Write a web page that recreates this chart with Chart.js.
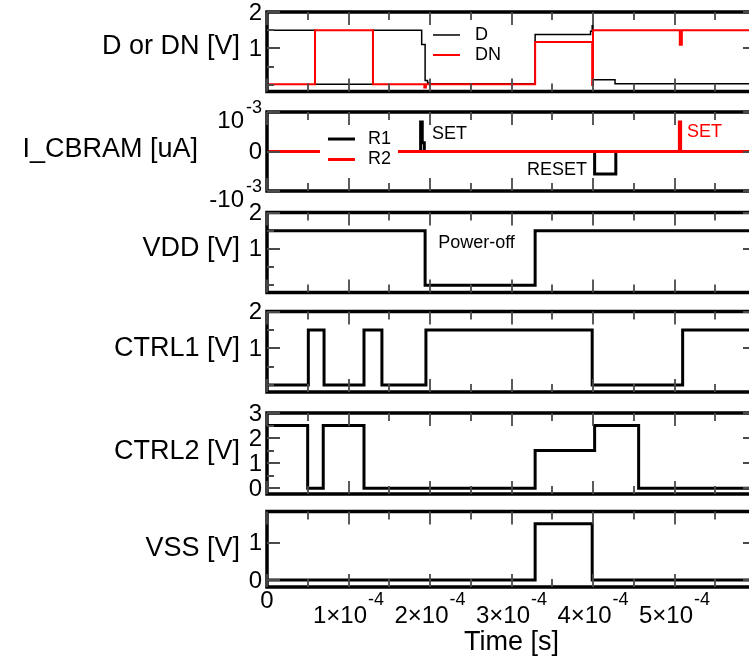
<!DOCTYPE html>
<html>
<head>
<meta charset="utf-8">
<title>CBRAM cell waveforms</title>
<script src="https://cdn.jsdelivr.net/npm/chart.js@4.4.1/dist/chart.umd.min.js"></script>
<style>
  html, body { margin:0; padding:0; background:#ffffff; width:749px; height:663px; overflow:hidden; }
  .wrap { position:relative; width:749px; height:663px; overflow:hidden; }
  canvas { position:absolute; left:0; top:0; }
</style>
</head>
<body>
<div class="wrap">
<canvas id="pD" width="760" height="663"></canvas>
<canvas id="pI" width="760" height="663"></canvas>
<canvas id="pVDD" width="760" height="663"></canvas>
<canvas id="pC1" width="760" height="663"></canvas>
<canvas id="pC2" width="760" height="663"></canvas>
<canvas id="pVSS" width="760" height="663"></canvas>
</div>
<script>
// ---------------- data ----------------
const X_MIN = 0, X_MAX = 6e-4;
const xMajorTicks = [0, 1e-4, 2e-4, 3e-4, 4e-4, 5e-4];
const xMinorTicks = [0.5e-4, 1.5e-4, 2.5e-4, 3.5e-4, 4.5e-4, 5.5e-4];
const xTickMantissa = ['0', '1×10', '2×10', '3×10', '4×10', '5×10'];
const xTickExponent = ['', '-4', '-4', '-4', '-4', '-4'];

// D / DN [V]
const dTime  = [0, 0.589e-4, 1.30e-4, 1.898e-4, 1.94e-4, 1.97e-4, 2.0e-4, 3.29e-4, 3.97e-4, 3.99e-4, 4.0e-4, 4.27e-4, 6e-4];
const dVolt  = [1.5, 0.02, 1.5, 1.11, 0.12, 0.05, 0.03, 1.38, 1.47, 1.62, 0.14, 0.03, 0.03];
const dnTime = [0, 0.589e-4, 1.30e-4, 1.93e-4, 1.95e-4, 3.29e-4, 3.99e-4, 4.0e-4, 5.065e-4, 5.09e-4, 6e-4];
const dnVolt = [0.02, 1.5, 0.02, -0.07, 0.02, 1.18, 0.0, 1.5, 1.1, 1.5, 1.5];
const dYTicks = [1, 2];           const dYMinor = [0, 0.5, 1.5];
const dYLabels = ['1', '2'];

// I_CBRAM [uA]
const r1Time = [0, 1.885e-4, 1.905e-4, 1.93e-4, 4.02e-4, 4.28e-4, 6e-4];
const r1Curr = [0, 0.75e-3, 0.22e-3, 0, -0.57e-3, 0, 0];
const r2Time = [0, 5.06e-4, 5.075e-4, 6e-4];
const r2Curr = [0, 0.75e-3, 0, 0];
const iYTicks = [-1e-3, 0, 1e-3];
const iYMantissa = ['-10', '0', '10'];
const iYExponent = ['-3', '', '-3'];

// VDD [V]
const vddTime = [0, 1.94e-4, 3.29e-4, 6e-4];
const vddVolt = [1.5, 0, 1.5, 1.5];
const vddYTicks = [1, 2];         const vddYMinor = [0, 0.5, 1.5];
const vddYLabels = ['1', '2'];

// CTRL1 [V]
const c1Time = [0, 0.507e-4, 0.70e-4, 1.19e-4, 1.41e-4, 1.95e-4, 3.99e-4, 5.10e-4, 6e-4];
const c1Volt = [0, 1.5, 0, 1.5, 0, 1.5, 0, 1.5, 1.5];
const c1YTicks = [1, 2];          const c1YMinor = [0, 0.5, 1.5];
const c1YLabels = ['1', '2'];

// CTRL2 [V]
const c2Time = [0, 0.499e-4, 0.69e-4, 1.19e-4, 3.29e-4, 4.02e-4, 4.56e-4, 6e-4];
const c2Volt = [2.5, 0, 2.5, 0, 1.5, 2.5, 0, 0];
const c2YTicks = [0, 1, 2, 3];    const c2YMinor = [0.5, 1.5, 2.5];
const c2YLabels = ['0', '1', '2', '3'];

// VSS [V]
const vssTime = [0, 3.29e-4, 3.99e-4, 6e-4];
const vssVolt = [0, 1.5, 0, 0];
const vssYTicks = [0, 1];         const vssYMinor = [];
const vssYLabels = ['0', '1'];

// ---------------- drawing ----------------
const FONT = '"Liberation Sans", Arial, Helvetica, sans-serif';
const TICK = '24px ' + FONT, SUP = '18px ' + FONT, TITLE = '27px ' + FONT, NOTE = '18px ' + FONT;

const decoPlugin = {
  id: 'deco',
  afterDatasetsDraw(chart, args, o) {
    const ctx = chart.ctx, ca = chart.chartArea, xs = chart.scales.x, ys = chart.scales.y;
    ctx.save();
    // legend
    if (o.legend) {
      const L = o.legend;
      const lx = xs.getPixelForValue(L.t), ly = ys.getPixelForValue(L.v);
      if (L.box) { ctx.fillStyle = '#fff'; ctx.fillRect(lx + L.box[0], ly + L.box[1], L.box[2], L.box[3]); }
      chart.data.datasets.forEach((ds, i) => {
        const yy = ly + i * L.gap;
        ctx.strokeStyle = ds.borderColor; ctx.lineWidth = ds.borderWidth;
        ctx.beginPath(); ctx.moveTo(lx, yy); ctx.lineTo(lx + L.len, yy); ctx.stroke();
        ctx.font = NOTE; ctx.fillStyle = '#000'; ctx.textAlign = 'left'; ctx.textBaseline = 'middle';
        ctx.fillText(ds.label, lx + L.textDx, yy);
      });
    }
    // annotations
    (o.notes || []).forEach(n => {
      ctx.font = NOTE; ctx.fillStyle = n.color; ctx.textAlign = 'left'; ctx.textBaseline = 'middle';
      ctx.fillText(n.text, xs.getPixelForValue(n.t), ys.getPixelForValue(n.v));
    });
    // frame
    ctx.strokeStyle = '#000'; ctx.lineWidth = 3.5;
    ctx.strokeRect(ca.left, ca.top, ca.right - ca.left, ca.bottom - ca.top);
    // inward ticks on all four sides
    ctx.strokeStyle = '#4a4a4a'; ctx.lineWidth = 1.8;
    ctx.beginPath();
    xMajorTicks.forEach(v => {
      const px = Math.round(xs.getPixelForValue(v));
      ctx.moveTo(px, ca.top); ctx.lineTo(px, ca.top + 13);
      ctx.moveTo(px, ca.bottom); ctx.lineTo(px, ca.bottom - 13);
    });
    xMinorTicks.forEach(v => {
      const px = Math.round(xs.getPixelForValue(v));
      ctx.moveTo(px, ca.top); ctx.lineTo(px, ca.top + 8);
      ctx.moveTo(px, ca.bottom); ctx.lineTo(px, ca.bottom - 8);
    });
    o.yTicks.forEach(v => {
      const py = Math.round(ys.getPixelForValue(v));
      ctx.moveTo(ca.left, py); ctx.lineTo(ca.left + 13, py);
      ctx.moveTo(ca.right, py); ctx.lineTo(ca.right - 13, py);
    });
    (o.yMinor || []).forEach(v => {
      const py = Math.round(ys.getPixelForValue(v));
      ctx.moveTo(ca.left, py); ctx.lineTo(ca.left + 7, py);
      ctx.moveTo(ca.right, py); ctx.lineTo(ca.right - 7, py);
    });
    ctx.stroke();
    // y tick labels
    ctx.fillStyle = '#000';
    const rx = ca.left - 5;
    o.yTicks.forEach((v, i) => {
      const py = ys.getPixelForValue(v);
      const m = o.yMant[i], e = o.yExp ? o.yExp[i] : '';
      if (e) {
        ctx.font = SUP; const ew = ctx.measureText(e).width;
        ctx.textAlign = 'right'; ctx.textBaseline = 'alphabetic';
        ctx.fillText(e, rx, py + 1);
        ctx.font = TICK; ctx.fillText(m, rx - ew - 2, py + 16);
      } else {
        ctx.font = TICK; ctx.textAlign = 'right'; ctx.textBaseline = 'middle';
        ctx.fillText(m, rx, py + 1);
      }
    });
    // y title (horizontal)
    ctx.font = TITLE; ctx.textAlign = 'right'; ctx.textBaseline = 'middle';
    ctx.fillText(o.title, ca.left - o.titleGap, ys.getPixelForValue(o.titleV));
    // x axis labels
    if (o.xTitle) {
      xMajorTicks.forEach((v, i) => {
        const px = xs.getPixelForValue(v);
        const m = xTickMantissa[i], e = xTickExponent[i];
        ctx.textBaseline = 'alphabetic';
        if (!e) {
          ctx.font = TICK; ctx.textAlign = 'center'; ctx.fillText(m, px, ca.bottom + 21);
        } else {
          ctx.font = TICK; const mw = ctx.measureText(m).width;
          ctx.font = SUP; const ew = ctx.measureText(e).width;
          const x0 = px - (mw + ew + 1) / 2;
          ctx.textAlign = 'left';
          ctx.font = TICK; ctx.fillText(m, x0, ca.bottom + 36);
          ctx.font = SUP; ctx.fillText(e, x0 + mw + 1, ca.bottom + 18);
        }
      });
      ctx.font = TITLE; ctx.textAlign = 'center'; ctx.textBaseline = 'middle';
      ctx.fillText(o.xTitle, (ca.left + ca.right) / 2, ca.bottom + 56);
    }
    ctx.restore();
  }
};

function series(label, times, vals, color, width, order) {
  return {
    label, data: times.map((t, i) => ({ x: t, y: vals[i] })),
    borderColor: color, borderWidth: width, stepped: true, fill: false,
    pointRadius: 0, tension: 0, order, borderJoinStyle: 'miter', borderCapStyle: 'butt'
  };
}

function makeChart(id, datasets, yMin, yMax, top, bottom, deco) {
  return new Chart(document.getElementById(id), {
    type: 'line',
    data: { datasets },
    options: {
      responsive: false, animation: false, events: [],
      layout: { padding: { left: 267, right: 4, top: top, bottom: 663 - bottom } },
      scales: {
        x: { type: 'linear', min: X_MIN, max: X_MAX, display: false },
        y: { type: 'linear', min: yMin, max: yMax, display: false }
      },
      plugins: { legend: { display: false }, tooltip: { enabled: false }, deco }
    },
    plugins: [decoPlugin]
  });
}

makeChart('pD', [
  series('D', dTime, dVolt, '#000000', 1.5, 1),
  series('DN', dnTime, dnVolt, '#ff0000', 2, 0)
], -0.18, 2, 12, 91.5, {
  title: 'D or DN [V]', titleGap: 27, titleV: 1.04,
  yTicks: dYTicks, yMinor: dYMinor, yMant: dYLabels,
  legend: { t: 2.037e-4, v: 1.37, gap: 20, len: 27, textDx: 42 }
});

makeChart('pI', [
  series('R1', r1Time, r1Curr, '#000000', 3, 1),
  series('R2', r2Time, r2Curr, '#ff0000', 3, 0)
], -1e-3, 1e-3, 112, 191, {
  title: 'I_CBRAM [uA]', titleGap: 69, titleV: 0.04e-3,
  yTicks: iYTicks, yMinor: [], yMant: iYMantissa, yExp: iYExponent,
  legend: { t: 0.748e-4, v: 0.316e-3, gap: 20.5, len: 27, textDx: 40, box: [-8, -12, 78, 45] },
  notes: [
    { text: 'SET', t: 2.025e-4, v: 0.435e-3, color: '#000000' },
    { text: 'SET', t: 5.153e-4, v: 0.486e-3, color: '#ff0000' },
    { text: 'RESET', t: 3.19e-4, v: -0.468e-3, color: '#000000' }
  ]
});

makeChart('pVDD', [
  series('VDD', vddTime, vddVolt, '#000000', 3, 0)
], -0.2, 2, 212.5, 292.5, {
  title: 'VDD [V]', titleGap: 27, titleV: 1,
  yTicks: vddYTicks, yMinor: vddYMinor, yMant: vddYLabels,
  notes: [{ text: 'Power-off', t: 2.10e-4, v: 1.15, color: '#000000' }]
});

makeChart('pC1', [
  series('CTRL1', c1Time, c1Volt, '#000000', 3, 0)
], -0.19, 2, 311.5, 392, {
  title: 'CTRL1 [V]', titleGap: 27, titleV: 1,
  yTicks: c1YTicks, yMinor: c1YMinor, yMant: c1YLabels
});

makeChart('pC2', [
  series('CTRL2', c2Time, c2Volt, '#000000', 3, 0)
], -0.23, 3, 413, 494, {
  title: 'CTRL2 [V]', titleGap: 27, titleV: 1.45,
  yTicks: c2YTicks, yMinor: c2YMinor, yMant: c2YLabels
});

makeChart('pVSS', [
  series('VSS', vssTime, vssVolt, '#000000', 3, 0)
], -0.19, 1.83, 511.5, 587, {
  title: 'VSS [V]', titleGap: 27, titleV: 0.85,
  yTicks: vssYTicks, yMinor: vssYMinor, yMant: vssYLabels,
  xTitle: 'Time [s]'
});
</script>
</body>
</html>
